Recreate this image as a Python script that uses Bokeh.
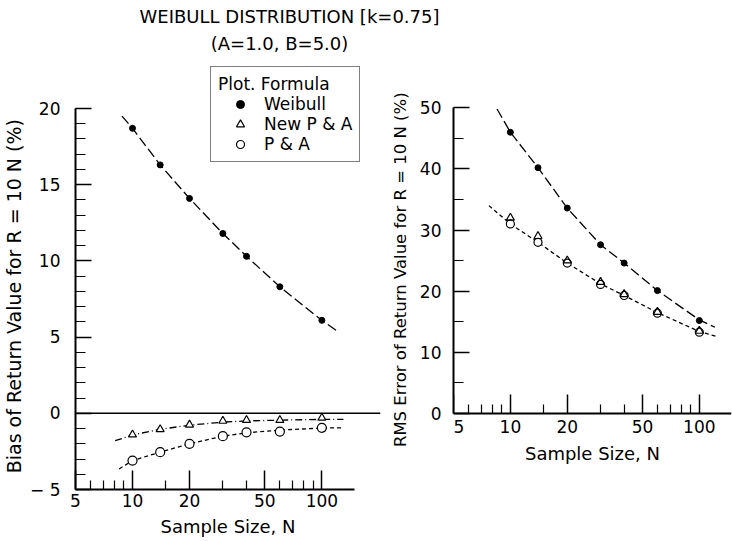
from bokeh.plotting import figure
from bokeh.models import Range1d, FixedTicker, Span, Legend, LegendItem, Label, BasicTickFormatter
from bokeh.layouts import column, row
from bokeh.embed import file_html
from bokeh.resources import INLINE

FONT = "DejaVu Sans"
NBSP = "\u00a0"

# sample sizes of the simulation runs
sample_n = [10, 14, 20, 30, 40, 60, 100]

# bias of the R = 10N return value (%)
bias_weibull = [18.7, 16.3, 14.1, 11.8, 10.3, 8.3, 6.1]
bias_new_pa = [-1.4, -1.05, -0.75, -0.5, -0.45, -0.45, -0.3]
bias_pa = [-3.1, -2.55, -2.0, -1.5, -1.25, -1.2, -0.95]

# RMS error of the R = 10N return value (%)
rms_weibull = [46.0, 40.2, 33.6, 27.6, 24.6, 20.1, 15.2]
rms_new_pa = [32.0, 29.0, 25.0, 21.5, 19.5, 16.6, 13.5]
rms_pa = [31.0, 28.0, 24.6, 21.1, 19.3, 16.4, 13.3]

# smoothed trend curves
bias_weibull_fit_n = [8.8, 10, 14, 20, 30, 40, 60, 100, 122]
bias_weibull_fit = [19.5, 18.7, 16.3, 14.1, 11.8, 10.3, 8.3, 6.1, 5.35]
bias_new_pa_fit_n = [8.1, 10, 14, 20, 30, 40, 60, 100, 130]
bias_new_pa_fit = [-1.8, -1.42, -1.05, -0.78, -0.58, -0.5, -0.45, -0.4, -0.4]
bias_pa_fit_n = [8.5, 10, 14, 20, 30, 40, 60, 100, 127]
bias_pa_fit = [-3.65, -3.1, -2.55, -2.0, -1.5, -1.28, -1.1, -0.97, -0.95]
rms_weibull_fit_n = [8.5, 10, 14, 20, 30, 40, 60, 100, 121]
rms_weibull_fit = [49.8, 46.0, 40.2, 33.6, 27.6, 24.6, 20.1, 15.3, 14.1]
rms_pa_fit_n = [7.7, 10, 14, 20, 30, 40, 60, 100, 123]
rms_pa_fit = [34.0, 31.0, 28.0, 24.6, 21.2, 19.3, 16.5, 13.4, 12.6]

# axis ticks
n_major = [5, 10, 20, 50, 100]
n_minor = [6, 7, 8, 9, 15, 30, 40, 60, 70, 80, 90]
bias_major = [-5, 0, 5, 10, 15, 20]
bias_minor = list(range(-5, 21))
rms_major = [0, 10, 20, 30, 40, 50]
rms_minor = [5, 15, 25, 35, 45]


def style(p, xlabel, ylabel, ylabel_size, y_major, y_minor, ylabel_standoff, xlabel_standoff,
          ytick_standoff):
    p.grid.visible = False
    p.outline_line_color = None
    xa, ya = p.xaxis[0], p.yaxis[0]
    xa.ticker = FixedTicker(ticks=n_major, minor_ticks=n_minor)
    xa.formatter = BasicTickFormatter()
    ya.ticker = FixedTicker(ticks=y_major, minor_ticks=y_minor)
    for ax in (xa, ya):
        ax.axis_line_width = 2
        ax.axis_line_color = "black"
        ax.major_tick_out = 0
        ax.minor_tick_out = 0
        ax.major_tick_line_color = "black"
        ax.minor_tick_line_color = "black"
        ax.major_tick_line_width = 1.5
        ax.minor_tick_line_width = 1.2
        ax.major_label_text_font = FONT
        ax.major_label_text_font_size = "17px"
        ax.major_label_text_color = "black"
        ax.axis_label_text_font = FONT
        ax.axis_label_text_color = "black"
        ax.axis_label_text_font_style = "normal"
    xa.major_tick_in = 19
    xa.minor_tick_in = 9
    xa.major_label_standoff = 4
    xa.axis_label = xlabel
    xa.axis_label_text_font_size = "18px"
    xa.axis_label_standoff = xlabel_standoff
    ya.major_tick_in = 16
    ya.minor_tick_in = 10
    ya.major_label_standoff = ytick_standoff
    ya.axis_label = ylabel
    ya.axis_label_text_font_size = ylabel_size
    ya.axis_label_standoff = ylabel_standoff


# ---- heading strip ----
head = figure(width=732, height=55, x_range=Range1d(0, 732), y_range=Range1d(55, 0),
              x_axis_type=None, y_axis_type=None, toolbar_location=None,
              output_backend="svg", min_border=0, outline_line_color=None)
head.add_layout(Label(x=289, y=16, text="WEIBULL DISTRIBUTION [k=0.75]", text_align="center",
                      text_baseline="middle", text_font=FONT, text_font_size="18px",
                      text_color="black"))
head.add_layout(Label(x=279, y=43, text="(A=1.0, B=5.0)", text_align="center",
                      text_baseline="middle", text_font=FONT, text_font_size="18px",
                      text_color="black"))

# ---- bias panel ----
# the frame reaches above 20 % and past N = 150 to leave room for the legend box
left = figure(width=385, height=486, x_axis_type="log", x_range=Range1d(5, 204),
              y_range=Range1d(-5, 23.15), toolbar_location=None, output_backend="svg",
              min_border_left=72, min_border_right=5, min_border_top=5, min_border_bottom=52)
# trailing spaces keep the rotated title centred on the -5..20 span
style(left, "Sample Size, N", "Bias of Return Value for R = 10 N (%)" + NBSP * 7, "19px",
      bias_major, bias_minor, 2, 6, 15)
left.xaxis[0].bounds = (5, 148)
left.yaxis[0].bounds = (-5, 20)
left.yaxis[0].major_label_overrides = {-5: "\u2212 5"}
left.add_layout(Span(location=0, dimension="width", line_color="black", line_width=1.6))

left.line(bias_weibull_fit_n, bias_weibull_fit, line_color="black", line_width=1.3, line_dash="10 4")
left.line(bias_new_pa_fit_n, bias_new_pa_fit, line_color="black", line_width=1.3, line_dash="7 3 1 3")
left.line(bias_pa_fit_n, bias_pa_fit, line_color="black", line_width=1.3, line_dash="4 3")
r_w = left.scatter(sample_n, bias_weibull, marker="circle", size=6, fill_color="black", line_color="black")
r_n = left.scatter(sample_n, bias_new_pa, marker="triangle", size=8, fill_color="white",
                   line_color="black", line_width=1.2)
r_p = left.scatter(sample_n, bias_pa, marker="circle", size=9, fill_color="white",
                   line_color="black", line_width=1.2)

legend = Legend(items=[LegendItem(label="Weibull", renderers=[r_w]),
                       LegendItem(label="New P & A", renderers=[r_n]),
                       LegendItem(label="P & A", renderers=[r_p])],
                location=(135, 327), title="Plot. Formula",
                title_text_font=FONT, title_text_font_size="17px", title_text_font_style="normal",
                title_text_color="black", title_standoff=0,
                label_text_font=FONT, label_text_font_size="17px", label_text_color="black",
                border_line_color="black", border_line_width=1.5, background_fill_alpha=1,
                padding=7, spacing=0, glyph_width=44, glyph_height=20, label_standoff=2,
                label_height=20, margin=0)
left.add_layout(legend, "center")

# ---- RMS error panel ----
# same frame height as the bias panel; the N axis sits at 0 %
right = figure(width=347, height=486, x_axis_type="log", x_range=Range1d(5, 148),
               y_range=Range1d(-12.44, 57.74), toolbar_location=None, output_backend="svg",
               min_border_left=68, min_border_right=1, min_border_top=5, min_border_bottom=52)
style(right, "Sample Size, N", NBSP * 2 + "RMS Error of Return Value for R = 10 N (%)", "16.5px",
      rms_major, rms_minor, 7, 2, 12)
right.yaxis[0].bounds = (0, 50)
right.xaxis[0].fixed_location = 0
right.xaxis[0].major_label_overrides = {5: NBSP * 2 + "5"}
right.line(rms_weibull_fit_n, rms_weibull_fit, line_color="black", line_width=1.3, line_dash="10 4")
right.line(rms_pa_fit_n, rms_pa_fit, line_color="black", line_width=1.3, line_dash="4 3")
right.scatter(sample_n, rms_weibull, marker="circle", size=6, fill_color="black", line_color="black")
right.scatter(sample_n, rms_pa, marker="circle", size=8, fill_color="white",
              line_color="black", line_width=1.2)
right.scatter(sample_n, rms_new_pa, marker="triangle", size=8, fill_alpha=0,
              line_color="black", line_width=1.2)

layout = column(head, row(left, right))
open("out.html", "w").write(file_html(layout, INLINE))
